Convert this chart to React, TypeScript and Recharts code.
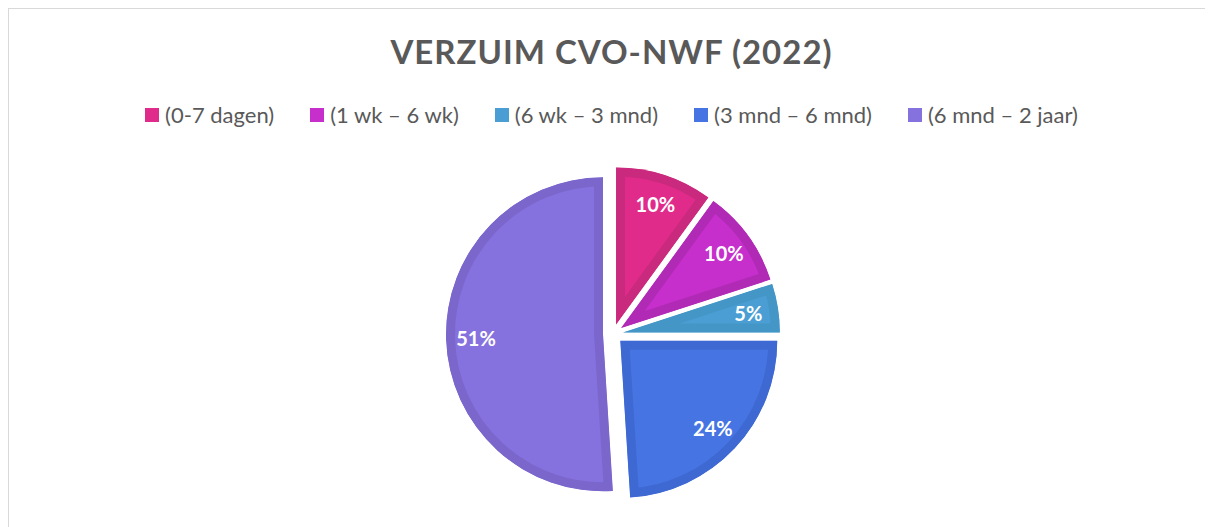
import React from 'react';
import { PieChart, Pie, Sector } from 'recharts';

const categories = ['(0-7 dagen)', '(1 wk – 6 wk)', '(6 wk – 3 mnd)', '(3 mnd – 6 mnd)', '(6 mnd – 2 jaar)'];
const percentages = [10, 10, 5, 24, 51];
const fills = ['#E02B8B', '#C62FCB', '#4A9ED3', '#4675E3', '#8672DE'];
const borders = ['#CA2A7D', '#B12AB6', '#4496C6', '#3F69D2', '#7B67CB'];

const FONT = 'Lato, "Open Sans", sans-serif';
const EXPLODE = 10;
const RAD = Math.PI / 180;

const data = categories.map((name, i) => ({
  name,
  value: percentages[i],
  fill: fills[i],
  border: borders[i],
}));

function ExplodedSlice(props: any) {
  const { cx, cy, midAngle, innerRadius, outerRadius, startAngle, endAngle, fill } = props;
  const border = props.payload?.border ?? props.border ?? fill;
  const x = cx + EXPLODE * Math.cos(-midAngle * RAD);
  const y = cy + EXPLODE * Math.sin(-midAngle * RAD);
  const id = `clip-${String(props.name).replace(/[^a-z0-9]/gi, '')}`;
  return (
    <g>
      <defs>
        <clipPath id={id}>
          <Sector cx={x} cy={y} innerRadius={innerRadius} outerRadius={outerRadius} startAngle={startAngle} endAngle={endAngle} />
        </clipPath>
      </defs>
      <Sector
        cx={x}
        cy={y}
        innerRadius={innerRadius}
        outerRadius={outerRadius}
        startAngle={startAngle}
        endAngle={endAngle}
        fill={fill}
        stroke={border}
        strokeWidth={18}
        clipPath={`url(#${id})`}
      />
    </g>
  );
}

function SliceLabel(props: any) {
  const { cx, cy, midAngle, value } = props;
  const r = EXPLODE + 127;
  const x = cx + r * Math.cos(-midAngle * RAD);
  const y = cy + r * Math.sin(-midAngle * RAD);
  return (
    <text x={x} y={y} fill="#fff" textAnchor="middle" dominantBaseline="central" fontFamily={FONT} fontWeight={700} fontSize={20}>
      {`${value}%`}
    </text>
  );
}

// legend uses the same arrays so the order matches the slices
function LegendRow() {
  return (
    <div
      style={{
        position: 'absolute',
        top: 92,
        left: 0,
        width: 1205,
        display: 'flex',
        justifyContent: 'center',
        gap: 36,
        fontFamily: FONT,
        fontSize: 22,
        color: '#595959',
      }}
    >
      {categories.map((c, i) => (
        <div key={c} style={{ display: 'flex', alignItems: 'center' }}>
          <span style={{ width: 14, height: 14, background: fills[i], marginRight: 6, display: 'inline-block' }} />
          <span>{c}</span>
        </div>
      ))}
    </div>
  );
}

export default function App() {
  return (
    <div
      style={{
        position: 'relative',
        width: 1205,
        height: 519,
        borderTop: '1px solid #d9d9d9',
        borderLeft: '1px solid #d9d9d9',
        background: '#fff',
        overflow: 'hidden',
      }}
    >
      <div
        style={{
          position: 'absolute',
          top: 22,
          left: 0,
          width: 1205,
          textAlign: 'center',
          fontFamily: FONT,
          fontWeight: 700,
          fontSize: 33,
          letterSpacing: 1,
          color: '#595959',
        }}
      >
        VERZUIM CVO-NWF (2022)
      </div>
      <LegendRow />
      <PieChart width={1205} height={519}>
        <Pie
          data={data}
          dataKey="value"
          nameKey="name"
          cx={599}
          cy={320}
          outerRadius={157}
          startAngle={90}
          endAngle={-270}
          stroke="none"
          shape={ExplodedSlice}
          activeShape={ExplodedSlice}
          inactiveShape={ExplodedSlice}
          label={SliceLabel}
          labelLine={false}
          isAnimationActive={false}
        />
      </PieChart>
    </div>
  );
}
